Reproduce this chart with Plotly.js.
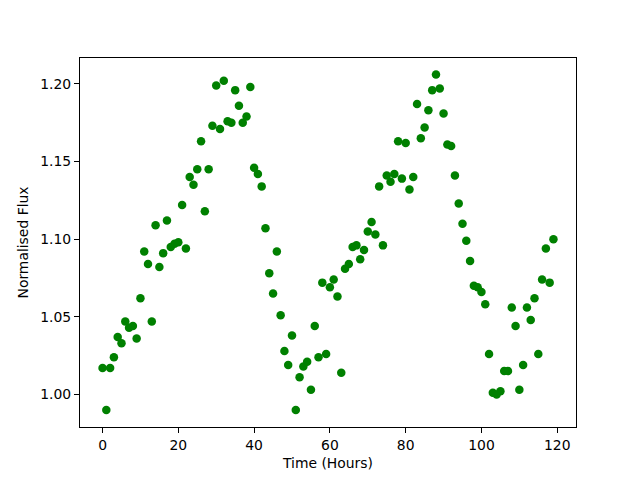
<!DOCTYPE html>
<html>
<head>
<meta charset="utf-8">
<script src="https://cdn.plot.ly/plotly-3.0.1.min.js"></script>
<style>html,body{margin:0;padding:0;background:#fff;}#chart{width:640px;height:480px;}</style>
</head>
<body>
<div id="chart"></div>
<script>
const hours = [0,1,2,3,4,5,6,7,8,9,10,11,12,13,14,15,16,17,18,19,
  20,21,22,23,24,25,26,27,28,29,30,31,32,33,34,35,36,37,38,39,
  40,41,42,43,44,45,46,47,48,49,50,51,52,53,54,55,56,57,58,59,
  60,61,62,63,64,65,66,67,68,69,70,71,72,73,74,75,76,77,78,79,
  80,81,82,83,84,85,86,87,88,89,90,91,92,93,94,95,96,97,98,99,
  100,101,102,103,104,105,106,107,108,109,110,111,112,113,114,115,116,117,118,119];
const flux = [1.017,0.990,1.017,1.024,1.037,1.033,1.047,1.043,1.044,1.036,
  1.062,1.092,1.084,1.047,1.109,1.082,1.091,1.112,1.095,1.097,
  1.098,1.122,1.094,1.140,1.135,1.145,1.163,1.118,1.145,1.173,
  1.199,1.171,1.202,1.176,1.175,1.196,1.186,1.175,1.179,1.198,
  1.146,1.142,1.134,1.107,1.078,1.065,1.092,1.051,1.028,1.019,
  1.038,0.990,1.011,1.018,1.021,1.003,1.044,1.024,1.072,1.026,
  1.069,1.074,1.063,1.014,1.081,1.084,1.095,1.096,1.087,1.093,
  1.105,1.111,1.103,1.134,1.096,1.141,1.137,1.142,1.163,1.139,
  1.162,1.132,1.140,1.187,1.165,1.172,1.183,1.196,1.206,1.197,
  1.181,1.161,1.160,1.141,1.123,1.110,1.099,1.086,1.070,1.069,
  1.066,1.058,1.026,1.001,1.000,1.002,1.015,1.015,1.056,1.044,
  1.003,1.019,1.056,1.048,1.062,1.026,1.074,1.094,1.072,1.100];
const xTicks = [0,20,40,60,80,100,120];
const yTicks = [1.00,1.05,1.10,1.15,1.20];
const yTickText = ["1.00","1.05","1.10","1.15","1.20"];

const trace = {
  x: hours, y: flux, type: 'scatter', mode: 'markers',
  marker: {color: '#008000', size: 8.5, line: {width: 0}},
  hoverinfo: 'skip'
};
const font = {family: 'DejaVu Sans, sans-serif', size: 13.9, color: '#000'};
const axisCommon = {
  showgrid: false, zeroline: false, showline: true, linecolor: '#000', linewidth: 1,
  mirror: true, ticks: 'outside', ticklen: 5, tickwidth: 1, tickcolor: '#000',
  tickfont: font
};
const layout = {
  width: 640, height: 480,
  margin: {l: 80, r: 64, t: 57.6, b: 52.8},
  paper_bgcolor: '#fff', plot_bgcolor: '#fff',
  showlegend: false, font: font,
  xaxis: Object.assign({}, axisCommon, {
    range: [-5.95, 124.95], tickvals: xTicks,
    title: {text: 'Time (Hours)', font: font, standoff: 6}
  }),
  yaxis: Object.assign({}, axisCommon, {
    range: [0.9790, 1.2167], tickvals: yTicks, ticktext: yTickText,
    title: {text: 'Normalised Flux', font: font, standoff: 8}
  })
};
Plotly.newPlot('chart', [trace], layout, {displayModeBar: false, staticPlot: true});
</script>
</body>
</html>
